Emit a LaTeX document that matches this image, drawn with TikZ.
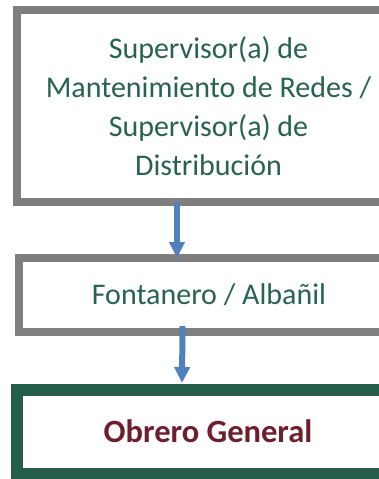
\documentclass[tikz,border=0pt]{standalone}
\usepackage{fontspec}
\setmainfont{Carlito}
\usetikzlibrary{arrows.meta}
\definecolor{boxgray}{HTML}{7F7F7F}
\definecolor{boxgreen}{HTML}{245E4B}
\definecolor{txtgreen}{HTML}{28634D}
\definecolor{txtred}{HTML}{6E1E2D}
\definecolor{arrblue}{HTML}{4F81BD}
\tikzset{
  graybox/.style={draw=boxgray, line width=8pt, fill=white, inner sep=0pt, outer sep=0pt,
    text=txtgreen, align=center, font=\fontsize{30pt}{39pt}\selectfont},
  greenbox/.style={draw=boxgreen, line width=12pt, fill=white, inner sep=0pt, outer sep=0pt,
    text=txtred, align=center, font=\fontsize{32.5pt}{39pt}\selectfont\bfseries},
  flowarrow/.style={draw=arrblue, line width=6pt, -{Triangle[width=15pt,length=16pt]}},
}
\begin{document}
\begin{tikzpicture}[x=1pt,y=-1pt]
\useasboundingbox (0,0) rectangle (379,479);
\clip (0,0) rectangle (379,479);
\node[graybox, minimum width=383pt, minimum height=192.5pt] (b1) at (208.5,106)
  {Supervisor(a) de\\Mantenimiento de Redes /\\Supervisor(a) de\\Distribución};
\node[graybox, minimum width=380pt, minimum height=73.5pt] (b2) at (209,294.75)
  {Fontanero / Albañil};
\node[greenbox, minimum width=382pt, minimum height=84.5pt] (b3) at (208,431.75)
  {\raisebox{2pt}{Obrero General}};
\draw[flowarrow] ([xshift=-31.5pt]b1.south) -- ([xshift=-32pt]b2.north);
\draw[flowarrow] ([xshift=-26.5pt,yshift=5.5pt]b2.south) -- ([xshift=-26pt,yshift=6.5pt]b3.north);
\end{tikzpicture}
\end{document}
